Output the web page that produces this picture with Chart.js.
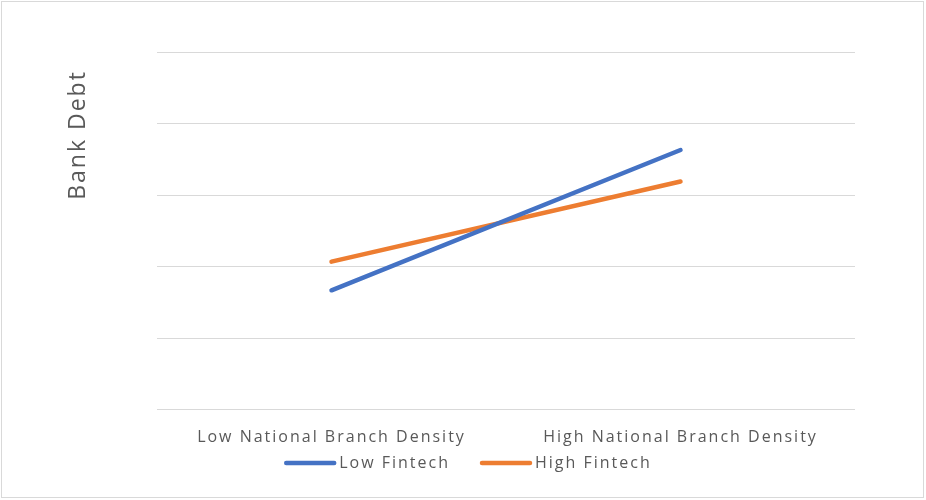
<!DOCTYPE html>
<html>
<head>
<meta charset="utf-8">
<script src="https://cdn.jsdelivr.net/npm/chart.js@4"></script>
<style>
  html, body { margin: 0; padding: 0; background: #fff; }
  #wrap { width: 926px; height: 500px; position: relative; }
</style>
</head>
<body>
<div id="wrap"><canvas id="chart" width="926" height="500"></canvas></div>
<script>
const categories = ["Low National Branch Density", "High National Branch Density"];
const lowFintech = [1.67, 3.63];
const highFintech = [2.07, 3.19];
const yTitle = "Bank Debt";

const textColor = "#595959";
const fontFamily = "'Open Sans', 'Noto Sans', sans-serif";
const spacing = "2px";

// frame, rotated axis title and a hand-made legend (the Excel one is off-centre)
const extras = {
	id: "extras",
	beforeLayout: (chart) => {
		chart.ctx.letterSpacing = spacing;
	},
	beforeDraw: (chart) => {
		const { ctx } = chart;
		ctx.letterSpacing = spacing;
		ctx.save();
		ctx.strokeStyle = "#d9d9d9";
		ctx.lineWidth = 1;
		ctx.strokeRect(1.5, 1.5, 922, 496);
		ctx.restore();
	},
	afterDraw: (chart) => {
		const { ctx, chartArea } = chart;
		ctx.save();
		ctx.letterSpacing = spacing;
		ctx.translate(chartArea.left - 79, 135);
		ctx.rotate(-Math.PI / 2);
		ctx.font = "23px " + fontFamily;
		ctx.fillStyle = textColor;
		ctx.textAlign = "center";
		ctx.textBaseline = "middle";
		ctx.fillText(yTitle, 0, 0);
		ctx.restore();

		// legend
		ctx.save();
		ctx.letterSpacing = spacing;
		ctx.font = "16px " + fontFamily;
		const swatch = 52;
		const gapText = 3;
		const gapItem = 30;
		const items = chart.data.datasets.map((ds) => ({
			label: ds.label,
			color: ds.borderColor,
			w: ctx.measureText(ds.label).width,
		}));
		let total = 0;
		items.forEach((it, i) => {
			total += swatch + gapText + it.w + (i < items.length - 1 ? gapItem : 0);
		});
		let x = 468 - total / 2;
		const y = 463;
		items.forEach((it) => {
			ctx.strokeStyle = it.color;
			ctx.lineWidth = 4.5;
			ctx.lineCap = "round";
			ctx.beginPath();
			ctx.moveTo(x + 2, y);
			ctx.lineTo(x + swatch - 2, y);
			ctx.stroke();
			ctx.fillStyle = textColor;
			ctx.textAlign = "left";
			ctx.textBaseline = "middle";
			ctx.fillText(it.label, x + swatch + gapText, y);
			x += swatch + gapText + it.w + gapItem;
		});
		ctx.restore();
	},
};

const ctx = document.getElementById("chart").getContext("2d");

window.chart = new Chart(ctx, {
	type: "line",
	data: {
		labels: categories,
		datasets: [
			{
				label: "Low Fintech",
				data: lowFintech,
				borderColor: "#4472C4",
				backgroundColor: "#4472C4",
				borderWidth: 4.5,
				borderCapStyle: "round",
				pointRadius: 0,
				tension: 0,
			},
			{
				label: "High Fintech",
				data: highFintech,
				borderColor: "#ED7D31",
				backgroundColor: "#ED7D31",
				borderWidth: 4.5,
				borderCapStyle: "round",
				pointRadius: 0,
				tension: 0,
			},
		],
	},
	options: {
		responsive: false,
		animation: false,
		layout: {
			padding: { left: 157, right: 71, top: 52, bottom: 35 },
		},
		plugins: {
			title: { display: false },
			tooltip: { enabled: false },
			legend: { display: false },
		},
		scales: {
			x: {
				offset: true,
				grid: { display: false, drawTicks: false },
				border: { display: false },
				ticks: {
					padding: 18,
					color: textColor,
					font: { family: fontFamily, size: 16 },
					maxRotation: 0,
					autoSkip: false,
				},
			},
			y: {
				min: 0,
				max: 5,
				ticks: { display: false, stepSize: 1 },
				grid: { color: "#d9d9d9", lineWidth: 1, drawTicks: false },
				border: { display: false },
			},
		},
	},
	plugins: [extras],
});
</script>
</body>
</html>
